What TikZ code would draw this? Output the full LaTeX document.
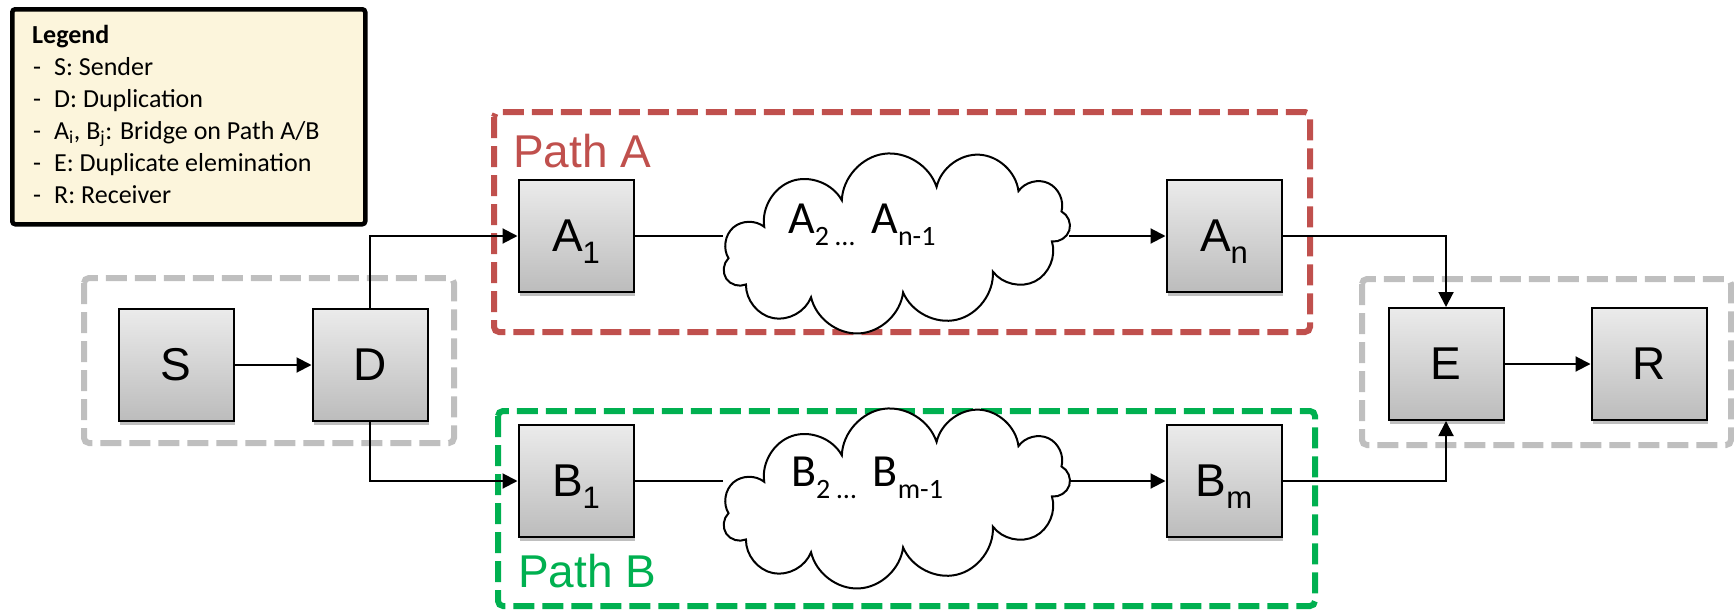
\documentclass[tikz,border=0pt]{standalone}
\usepackage{fontspec}
\setmainfont{Liberation Sans}
\newfontfamily\calibri{Carlito}
\usetikzlibrary{arrows.meta,shapes.symbols,shadows}
\definecolor{pathred}{HTML}{C0504D}
\definecolor{pathgreen}{HTML}{00B050}
\definecolor{framegray}{HTML}{BFBFBF}
\definecolor{legendfill}{HTML}{FCF5DC}
\definecolor{boxtop}{HTML}{EBEBEB}
\definecolor{boxbot}{HTML}{BCBCBC}
\newcommand\boxsub[1]{\raisebox{-12pt}[0pt][0pt]{\fontsize{31}{31}\selectfont #1}}
\newcommand\cloudsub[1]{\raisebox{-12pt}[0pt][0pt]{\fontsize{28}{28}\selectfont #1}}
\newcommand\legitem[1]{\makebox[22pt][l]{\hspace{1pt}-}#1}
\begin{document}
\begin{tikzpicture}[x=1pt,y=-1pt,
  bridge/.style={draw=black, line width=2pt, top color=boxtop, bottom color=boxbot,
    minimum width=115pt, minimum height=112pt, inner sep=0pt,
    font=\fontsize{46}{46}\selectfont,
    drop shadow={shadow xshift=1pt, shadow yshift=-4pt, opacity=0.25, fill=black}},
  frame/.style={line width=6pt, dash pattern=on 21pt off 8pt, rounded corners=5pt},
  conn/.style={line width=2pt, draw=black},
  arr/.style={conn, -{Triangle[length=15pt,width=15pt]}},
  cloudbox/.style={cloud, cloud puffs=11, cloud puff arc=160, cloud ignores aspect,
    draw=black, fill=white, line width=2pt, minimum width=350pt, minimum height=178pt, inner sep=0pt},
  cloudtext/.style={font=\calibri\fontsize{46}{46}\selectfont, inner sep=0pt, anchor=base west},
  pathlabel/.style={font=\fontsize{46}{46}\selectfont, inner sep=0pt, anchor=base west}
]
\useasboundingbox (0,0) rectangle (1734,613);

% group frames
\draw[frame, draw=framegray] (84,278) rectangle (454,443);
\draw[frame, draw=framegray] (1362,279) rectangle (1731,445);
\draw[frame, draw=pathred] (494,112) rectangle (1310,332);
\draw[frame, draw=pathgreen] (498,411) rectangle (1315,606);

\node[pathlabel, text=pathred] (pathA) at (513,167) {Path A};
\node[pathlabel, text=pathgreen] (pathB) at (518,587) {Path B};

% legend
\node[draw=black, line width=4.5pt, fill=legendfill, rounded corners=3pt,
      minimum width=353pt, minimum height=215pt, anchor=north west, inner sep=0pt] (legend) at (10,7) {};
\node[anchor=north west, inner sep=0pt, font=\calibri\fontsize{26}{32}\selectfont] (legendtext) at (32,20.6) {%
  \begin{tabular}{@{}l@{}}
  \textbf{Legend}\\
  \legitem{S: Sender}\\
  \legitem{D: Duplication}\\
  \legitem{A\textsubscript{i}, B\textsubscript{j}: Bridge on Path A/B}\\
  \legitem{E: Duplicate elemination}\\
  \legitem{R: Receiver}
  \end{tabular}};

% clouds
\node[cloudbox, rotate=8] (cloudA) at (896,242) {};
\node[cloudbox, rotate=8] (cloudB) at (896,497) {};
\node[cloudtext] (cloudAtext) at (788,233) {A\cloudsub{2 … } A\cloudsub{n-1}};
\node[cloudtext] (cloudBtext) at (791,486) {B\cloudsub{2 … } B\cloudsub{m-1}};

% bridges
\node[bridge] (S) at (176,365) {S};
\node[bridge] (D) at (370,365) {D};
\node[bridge] (A1) at (576,236) {A\boxsub{1}};
\node[bridge] (An) at (1224,236) {A\boxsub{n}};
\node[bridge] (B1) at (576,481) {B\boxsub{1}};
\node[bridge] (Bm) at (1224,481) {B\boxsub{m}};
\node[bridge] (E) at (1446,364) {E};
\node[bridge] (R) at (1649,364) {R};

% connectors
\draw[arr] (S.east) -- (S.east -| D.west);
\draw[arr] (D.north) |- (A1.west);
\draw[arr] (D.south) |- (B1.west);
\draw[conn] (A1.east) -- (A1.east -| cloudA.west);
\draw[conn] (B1.east) -- (B1.east -| cloudB.west);
\draw[arr] (An.west -| cloudA.east) -- (An.west);
\draw[arr] (Bm.west -| cloudB.east) -- (Bm.west);
\draw[arr] (An.east) -| (E.north);
\draw[arr] (Bm.east) -| (E.south);
\draw[arr] (E.east) -- (R.west);
\end{tikzpicture}
\end{document}
